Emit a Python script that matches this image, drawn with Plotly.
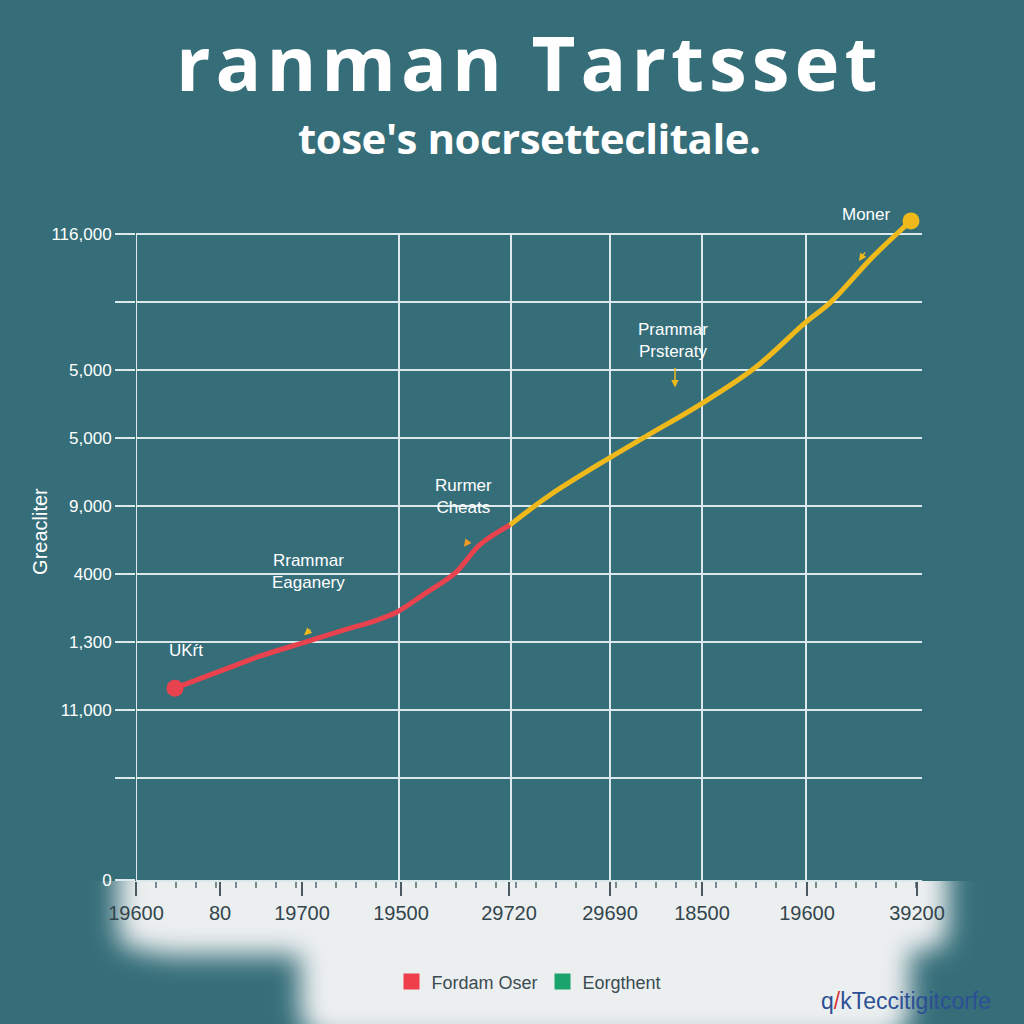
import base64
import plotly.graph_objects as go

# chart values (x in axis units, y in axis units)
red_x = [3.9, 8.4, 12.4, 17.0, 20.9, 23.9, 26.1, 28.9, 31.9, 34.4, 37.4]
red_y = [2.82, 3.07, 3.29, 3.50, 3.68, 3.81, 3.94, 4.21, 4.51, 4.93, 5.22]
yellow_x = [37.4, 41.4, 47.4, 51.2, 56.4, 61.9, 66.9, 69.5, 73.4, 76.3, 77.5]
yellow_y = [5.22, 5.66, 6.21, 6.54, 6.99, 7.53, 8.19, 8.50, 9.12, 9.53, 9.69]

x_tickvals = [0, 8.4, 16.6, 26.5, 37.3, 47.4, 56.6, 67.1, 78.1]
x_ticktext = ["19600", "80", "19700", "19500", "29720", "29690", "18500", "19600", "39200"]
x_gridvals = [0, 26.3, 37.5, 47.4, 56.6, 67.0]

y_tickvals = [0, 1.5, 2.5, 3.5, 4.5, 5.5, 6.5, 7.5, 8.5, 9.5]
y_ticktext = ["0", "", "11,000", "1,300", "4000", "9,000", "5,000", "5,000", "", "116,000"]

legend_names = ["Fordam Oser", "Eorgthent"]
legend_colors = ["#ee3f4b", "#1aa36b"]

# annotations: (x, y, text)
labels = [
    (5.0, 3.2, "UKŕt"),
    (17.2, 4.2, "Rrammar<br>Eaganery"),
    (32.7, 5.3, "Rurmer<br>Cheats"),
    (53.7, 7.6, "Prammar<br>Prsteraty"),
    (73.0, 9.62, "Moner"),
]

BG = "#356e79"
GRID = "#dbe9ec"
RED = "#e8424e"
YEL = "#efb91c"
FONT = "Liberation Sans, Arial, sans-serif"
Y_TOP = 9.5
W, H = 1024, 1024
ML, MR, MT, MB = 136, 102, 210, 144

fig = go.Figure()

fig.add_trace(go.Scatter(x=red_x, y=red_y, mode="lines", line=dict(color=RED, width=5, shape="spline"),
                         showlegend=False, hoverinfo="skip"))
fig.add_trace(go.Scatter(x=yellow_x, y=yellow_y, mode="lines", line=dict(color=YEL, width=5, shape="spline"),
                         showlegend=False, hoverinfo="skip"))
fig.add_trace(go.Scatter(x=[red_x[0]], y=[red_y[0]], mode="markers", marker=dict(color=RED, size=17),
                         showlegend=False, cliponaxis=False))
fig.add_trace(go.Scatter(x=[yellow_x[-1]], y=[yellow_y[-1]], mode="markers", marker=dict(color=YEL, size=17),
                         showlegend=False, cliponaxis=False))

for name, col in zip(legend_names, legend_colors):
    fig.add_trace(go.Scatter(x=[None], y=[None], mode="markers", name=name,
                             marker=dict(symbol="square", color=col, size=16)))

shapes = []
# vertical grid lines stop at the top labelled grid line
for gx in x_gridvals:
    shapes.append(dict(type="line", xref="x", yref="y", x0=gx, x1=gx, y0=0, y1=Y_TOP,
                       line=dict(color=GRID, width=2), layer="below"))

# soft pale band under the x axis, as a blurred svg image (clipped at the axis line)
band_svg = f"""<svg xmlns='http://www.w3.org/2000/svg' width='{W}' height='{H}'>
<defs><filter id='b' x='-20%' y='-20%' width='140%' height='140%'><feGaussianBlur stdDeviation='13'/></filter>
<clipPath id='c'><rect x='0' y='881' width='{W}' height='{H}'/></clipPath></defs>
<g clip-path='url(#c)'><g filter='url(#b)' fill='#eceff0'>
<rect x='118' y='850' width='830' height='100' rx='20'/>
<rect x='140' y='900' width='380' height='55' rx='25'/>
<rect x='300' y='920' width='610' height='120' rx='30'/>
</g></g></svg>"""
band_uri = "data:image/svg+xml;base64," + base64.b64encode(band_svg.encode()).decode()
pw, ph = W - ML - MR, H - MT - MB
images = [dict(source=band_uri, xref="paper", yref="paper", x=-ML / pw, y=1 + MT / ph,
               sizex=W / pw, sizey=H / ph, xanchor="left", yanchor="top", sizing="stretch", layer="below")]

annotations = []
for x, y, t in labels:
    annotations.append(dict(x=x, y=y, text=t, showarrow=False, font=dict(color="white", size=17, family=FONT),
                            xanchor="center", yanchor="bottom"))

# little arrows near labels
annotations += [
    dict(x=53.9, y=7.24, ax=53.9, ay=7.55, axref="x", ayref="y", text="", showarrow=True,
         arrowhead=2, arrowsize=1, arrowwidth=1.5, arrowcolor=YEL),
    dict(x=72.3, y=9.1, ax=73.0, ay=9.25, axref="x", ayref="y", text="", showarrow=True,
         arrowhead=2, arrowsize=1, arrowwidth=1.5, arrowcolor=YEL),
    dict(x=16.8, y=3.6, ax=17.6, ay=3.7, axref="x", ayref="y", text="", showarrow=True,
         arrowhead=2, arrowsize=1, arrowwidth=1.5, arrowcolor=YEL),
    dict(x=32.8, y=4.9, ax=33.3, ay=5.0, axref="x", ayref="y", text="", showarrow=True,
         arrowhead=2, arrowsize=1, arrowwidth=1.5, arrowcolor="#f59a1e"),
]

# titles
annotations += [
    dict(xref="paper", yref="paper", x=0.5, y=1.222,
         text="<b><span style='letter-spacing:5px'>ranman Tartsset</span></b>", showarrow=False,
         font=dict(color="white", size=76, family="Open Sans, sans-serif"), xanchor="center", yanchor="middle"),
    dict(xref="paper", yref="paper", x=0.5, y=1.108,
         text="<b><span style='letter-spacing:-0.5px'>tose's nocrsetteclitale.</span></b>", showarrow=False,
         font=dict(color="white", size=42, family="Open Sans, sans-serif"), xanchor="center", yanchor="middle"),
    dict(xref="paper", yref="paper", x=-0.123, y=0.52, text="Greacliter", textangle=-90, showarrow=False,
         font=dict(color="white", size=20, family=FONT), xanchor="center", yanchor="middle"),
    dict(xref="paper", yref="paper", x=1.09, y=-0.18,
         text="q<span style='color:#d9343a'>/</span>kTeccitigitcorfe", showarrow=False,
         font=dict(color="#2c4f95", size=23, family=FONT), xanchor="right", yanchor="middle"),
]

fig.update_layout(
    width=W, height=H,
    paper_bgcolor=BG, plot_bgcolor=BG,
    margin=dict(l=ML, r=MR, t=MT, b=MB),
    font=dict(family=FONT),
    shapes=shapes,
    images=images,
    annotations=annotations,
    showlegend=True,
    legend=dict(orientation="h", x=0.5, xanchor="center", y=-0.152, yanchor="middle",
                bgcolor="rgba(0,0,0,0)", font=dict(color="#3b4b52", size=18), itemwidth=30),
    xaxis=dict(range=[0, 78.6], tickvals=x_tickvals, ticktext=x_ticktext, showgrid=False,
               zeroline=False, showline=True, linecolor=GRID, linewidth=2,
               ticks="outside", ticklen=14, tickwidth=2, tickcolor="#4a5a60",
               tickfont=dict(color="#33454c", size=20, family=FONT),
               minor=dict(ticks="outside", ticklen=6, tickcolor="#7a8a90", dtick=2, showgrid=False)),
    yaxis=dict(range=[0, 9.85], tickvals=y_tickvals, ticktext=y_ticktext, showgrid=True,
               gridcolor=GRID, gridwidth=2, zeroline=False, ticks="outside", ticklen=20,
               tickwidth=2, tickcolor=GRID, tickfont=dict(color="white", size=17, family=FONT)),
)

fig.write_html("out.html", config={"displayModeBar": False},
               post_script="document.body.style.margin='0';document.body.style.overflow='hidden';")
